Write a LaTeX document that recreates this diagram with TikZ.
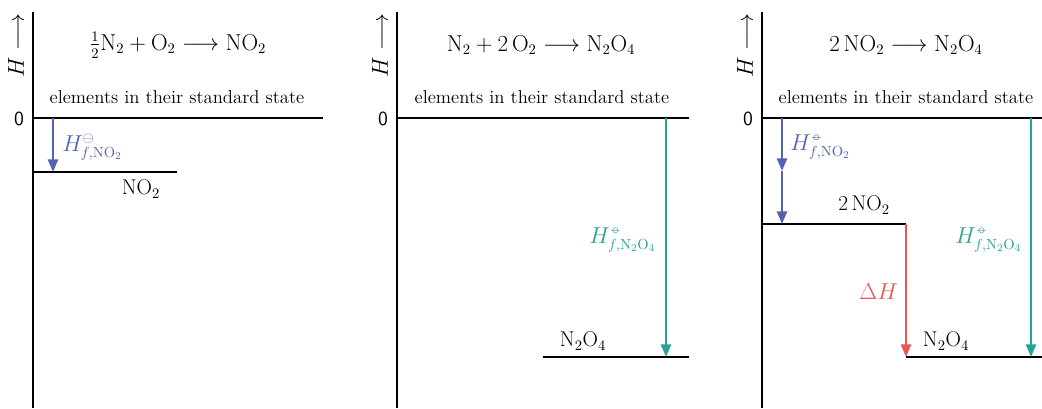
\documentclass[tikz,border=0pt]{standalone}
\usepackage{amsmath}
\usetikzlibrary{arrows.meta}
\definecolor{cblue}{RGB}{84,98,178}
\definecolor{cteal}{RGB}{36,164,150}
\definecolor{cred}{RGB}{238,82,82}
\newcommand{\stdst}{\mathord{\hbox{\ooalign{\hfil$\scriptstyle\circ$\hfil\cr$\scriptstyle-$\cr}}}}
\begin{document}
\begin{tikzpicture}[x=0.75pt,y=-0.75pt,
  every node/.style={font=\fontsize{16}{19}\selectfont, inner sep=0pt},
  eltext/.style={font=\fontsize{14}{17}\selectfont},
  axisline/.style={line width=2.2pt},
  levelline/.style={line width=2.2pt},
  zerolab/.style={font=\sffamily\fontsize{15}{18}\selectfont},
  hlab/.style={rotate=90,font=\fontsize{17}{20}\selectfont},
  enarrow/.style={line width=1.9pt,-{Triangle[length=9.5pt,width=7.5pt]}},
]
\useasboundingbox (0,0) rectangle (1042,408);

% ---------- panel 1 ----------
\coordinate (p1axt) at (33,12);
\coordinate (p1axb) at (33,408);
\coordinate (p1zl) at (33,118);
\coordinate (p1zr) at (323,118);
\coordinate (p1nl) at (33,172);
\coordinate (p1nr) at (177,172);
\coordinate (p1as) at (53,118);
\coordinate (p1ae) at (53,172);
\draw[axisline] (p1axt) -- (p1axb);
\draw[levelline] (p1zl) -- (p1zr);
\draw[levelline] (p1nl) -- (p1nr);
\node[hlab] (p1h) at (16,45) {$H\longrightarrow$};
\node[zerolab] (p1z) at (19,119) {0};
\node (p1eq) at (178,45) {$\tfrac12\mathrm{N}_2+\mathrm{O}_2\longrightarrow\mathrm{NO}_2$};
\node[eltext] (p1el) at (177,97) {elements in their standard state};
\draw[enarrow,cblue] (p1as) -- (p1ae);
\node[anchor=west,text=cblue] (p1hf) at (62,147) {$H^{\ominus}_{f,\mathrm{NO}_2}$};
\node (p1no) at (141,189) {NO$_2$};

% ---------- panel 2 ----------
\coordinate (p2axt) at (397,12);
\coordinate (p2axb) at (397,408);
\coordinate (p2zl) at (397,118);
\coordinate (p2zr) at (689,118);
\coordinate (p2nl) at (543,357);
\coordinate (p2nr) at (689,357);
\coordinate (p2as) at (666,118);
\coordinate (p2ae) at (666,357);
\draw[axisline] (p2axt) -- (p2axb);
\draw[levelline] (p2zl) -- (p2zr);
\draw[levelline] (p2nl) -- (p2nr);
\node[hlab] (p2h) at (380,45) {$H\longrightarrow$};
\node[zerolab] (p2z) at (383,119) {0};
\node (p2eq) at (541,45) {$\mathrm{N}_2+2\,\mathrm{O}_2\longrightarrow\mathrm{N}_2\mathrm{O}_4$};
\node[eltext] (p2el) at (542,97) {elements in their standard state};
\draw[enarrow,cteal] (p2as) -- (p2ae);
\node[anchor=east,text=cteal] (p2hf) at (656,240) {$H^{\stdst}_{f,\mathrm{N}_2\mathrm{O}_4}$};
\node (p2no) at (583,341) {N$_2$O$_4$};

% ---------- panel 3 ----------
\coordinate (p3axt) at (762,12);
\coordinate (p3axb) at (762,408);
\coordinate (p3zl) at (762,118);
\coordinate (p3zr) at (1042,118);
\coordinate (p3ml) at (762,224);
\coordinate (p3mr) at (906,224);
\coordinate (p3nl) at (906,357);
\coordinate (p3nr) at (1042,357);
\coordinate (p3a1s) at (782,118);
\coordinate (p3a1e) at (782,171);
\coordinate (p3a2e) at (782,224);
\coordinate (p3rs) at (906,224);
\coordinate (p3re) at (906,357);
\coordinate (p3ts) at (1031,118);
\coordinate (p3te) at (1031,357);
\draw[axisline] (p3axt) -- (p3axb);
\draw[levelline] (p3zl) -- (p3zr);
\draw[levelline] (p3ml) -- (p3mr);
\draw[levelline] (p3nl) -- (p3nr);
\node[hlab] (p3h) at (745,45) {$H\longrightarrow$};
\node[zerolab] (p3z) at (748,119) {0};
\node (p3eq) at (906,45) {$2\,\mathrm{NO}_2\longrightarrow\mathrm{N}_2\mathrm{O}_4$};
\node[eltext] (p3el) at (906,97) {elements in their standard state};
\draw[enarrow,cblue] (p3a1s) -- (p3a1e);
\draw[enarrow,cblue] (p3a1e) -- (p3a2e);
\node[anchor=west,text=cblue] (p3hf) at (790,147) {$H^{\stdst}_{f,\mathrm{NO}_2}$};
\node (p3mid) at (864,205) {2\,NO$_2$};
\draw[enarrow,cred] (p3rs) -- (p3re);
\node[anchor=east,text=cred] (p3dh) at (898,292) {$\Delta H$};
\node (p3no) at (946,341) {N$_2$O$_4$};
\draw[enarrow,cteal] (p3ts) -- (p3te);
\node[anchor=east,text=cteal] (p3hf2) at (1022,240) {$H^{\stdst}_{f,\mathrm{N}_2\mathrm{O}_4}$};
\end{tikzpicture}
\end{document}
